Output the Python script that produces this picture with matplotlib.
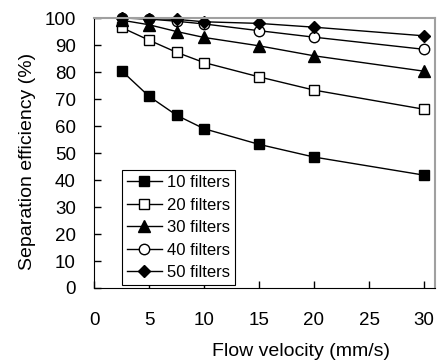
import matplotlib
matplotlib.use("Agg")
import matplotlib.pyplot as plt

plt.rcParams['font.family'] = ['Liberation Sans', 'DejaVu Sans']

velocity = [2.5, 5, 7.5, 10, 15, 20, 30]
eff_10 = [80.5, 71, 64, 59, 53.2, 48.5, 41.8]
eff_20 = [96.5, 91.8, 87.3, 83.5, 78.2, 73.3, 66.2]
eff_30 = [99.2, 97.5, 95, 92.8, 89.7, 86, 80.3]
eff_40 = [100, 99.6, 98.8, 97.8, 95.3, 92.9, 88.4]
eff_50 = [100, 99.8, 99.5, 98.6, 98, 96.6, 93.4]
names = ["10 filters", "20 filters", "30 filters", "40 filters", "50 filters"]

series = [eff_10, eff_20, eff_30, eff_40, eff_50]
markers = ["s", "s", "^", "o", "D"]
faces = ["black", "white", "black", "white", "black"]
msizes = [7.5, 7.5, 8, 7.5, 6]

fig = plt.figure(figsize=(4.4, 3.61), dpi=100)
ax = fig.add_axes([94 / 440, 1 - 288 / 361, (435 - 94) / 440, (288 - 18) / 361])

for vals, name, mk, fc, ms in zip(series, names, markers, faces, msizes):
    ax.plot(velocity, vals, color="black", lw=1, marker=mk, markerfacecolor=fc,
            markeredgecolor="black", markersize=ms, label=name, clip_on=False)

ax.set_xlim(0, 31)
ax.set_ylim(0, 100)
ax.set_xticks([0, 5, 10, 15, 20, 25, 30])
ax.set_yticks(range(0, 101, 10))
ax.tick_params(direction="in", length=5, width=1, labelsize=13.5, colors="black")
ax.tick_params(axis="x", pad=17)
ax.tick_params(axis="y", pad=13)
for side in ["top", "right"]:
    ax.spines[side].set_color("#a0a0a0")
    ax.spines[side].set_linewidth(1.5)
ax.tick_params(top=False, right=False)

ax.set_ylabel("Separation efficiency (%)", fontsize=14)
ax.yaxis.set_label_coords(-0.17, 0.47)
ax.set_xlabel("Flow velocity (mm/s)", fontsize=14)
ax.xaxis.set_label_coords(0.607, -0.205)

leg = ax.legend(loc="lower left", bbox_to_anchor=(0.082, 0.011), fontsize=12,
                frameon=True, fancybox=False, edgecolor="black", framealpha=1,
                handlelength=2.1, handletextpad=0.3, labelspacing=0.45,
                borderpad=0.3, borderaxespad=0.0)
leg.get_frame().set_linewidth(0.8)

fig.savefig("out.png", dpi=100)
